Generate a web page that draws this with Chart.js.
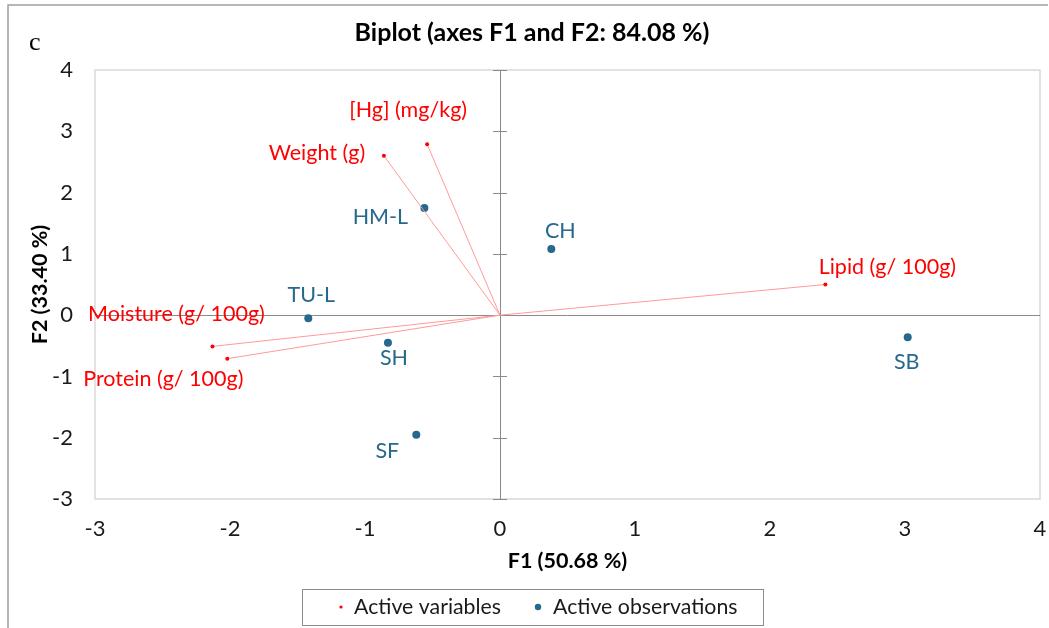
<!DOCTYPE html>
<html>
<head>
<meta charset="utf-8">
<script src="https://cdn.jsdelivr.net/npm/chart.js@4.4.1/dist/chart.umd.min.js"></script>
<style>
  html, body { margin: 0; padding: 0; background: #fff; }
  #wrap { width: 1049px; height: 628px; }
</style>
</head>
<body>
<div id="wrap"><canvas id="biplot" width="1049" height="628"></canvas></div>
<script>
// Active variables (loadings scaled onto F1/F2)
const varNames = ['[Hg] (mg/kg)', 'Weight (g)', 'Lipid (g/ 100g)', 'Moisture (g/ 100g)', 'Protein (g/ 100g)'];
const varF1 = [-0.54, -0.86, 2.41, -2.13, -2.02];
const varF2 = [2.79, 2.60, 0.50, -0.51, -0.71];

// Active observations
const obsNames = ['HM-L', 'CH', 'TU-L', 'SH', 'SF', 'SB'];
const obsF1 = [-0.56, 0.38, -1.42, -0.83, -0.62, 3.02];
const obsF2 = [1.75, 1.08, -0.05, -0.45, -1.95, -0.36];

// Axis ranges / ticks
const f1Ticks = [-3, -2, -1, 0, 1, 2, 3, 4];
const f2Ticks = [-3, -2, -1, 0, 1, 2, 3, 4];

const RED = '#ff0000';
const RED_LINE = '#ff9a9a';
const BLUE = '#26698c';
const FONT = 'Lato, "Open Sans", sans-serif';

// where each label sits relative to its point (px)
const varLabelOffset = [[-19, -34], [-67, -3], [62, -17], [-36, -32], [-64, 20]];
const obsLabelOffset = [[-44, 9], [9, -18], [3, -23], [6, 15], [-29, 16], [-1, 25]];

// one line dataset per variable, from the origin to the loading
const varDatasets = varNames.map((name, i) => ({
    label: name,
    data: [{ x: 0, y: 0 }, { x: varF1[i], y: varF2[i] }],
    showLine: true,
    borderColor: RED_LINE,
    borderWidth: 1,
    pointRadius: [0, 2],
    pointBackgroundColor: RED,
    pointBorderWidth: 0
}));

const obsDataset = {
    label: 'Active observations',
    data: obsF1.map((x, i) => ({ x: x, y: obsF2[i] })),
    pointRadius: 4,
    pointBackgroundColor: BLUE,
    pointBorderWidth: 0
};

const biplotDecor = {
    id: 'biplotDecor',
    beforeDraw(chart) {
        const ctx = chart.ctx;
        ctx.save();
        // outer frame (top + left only)
        ctx.strokeStyle = '#a0a0a0';
        ctx.lineWidth = 1.5;
        ctx.beginPath();
        ctx.moveTo(8, 628);
        ctx.lineTo(8, 5);
        ctx.lineTo(1048, 5);
        ctx.stroke();

        // panel letter
        ctx.fillStyle = '#000';
        ctx.font = '26px "Liberation Serif", "DejaVu Serif", serif';
        ctx.textAlign = 'left';
        ctx.textBaseline = 'middle';
        ctx.fillText('c', 29, 43);

        // title
        ctx.font = 'bold 25px ' + FONT;
        ctx.textAlign = 'center';
        ctx.fillText('Biplot (axes F1 and F2: 84.08 %)', 532, 33);

        // axis titles
        const a = chart.chartArea;
        ctx.font = 'bold 21.5px ' + FONT;
        ctx.fillText('F1 (50.68 %)', (a.left + a.right) / 2, 561);
        ctx.save();
        ctx.translate(40, (a.top + a.bottom) / 2);
        ctx.rotate(-Math.PI / 2);
        ctx.fillText('F2 (33.40 %)', 0, 0);
        ctx.restore();

        // plot frame
        ctx.strokeStyle = '#d9d9d9';
        ctx.lineWidth = 1.5;
        ctx.strokeRect(a.left, a.top, a.right - a.left, a.bottom - a.top);

        // legend
        ctx.strokeStyle = '#8c8c8c';
        ctx.lineWidth = 1;
        ctx.strokeRect(302.5, 589.5, 461, 36);
        ctx.fillStyle = RED;
        ctx.beginPath();
        ctx.arc(341, 607, 1.6, 0, Math.PI * 2);
        ctx.fill();
        ctx.fillStyle = BLUE;
        ctx.beginPath();
        ctx.arc(538, 607, 3.2, 0, Math.PI * 2);
        ctx.fill();
        ctx.fillStyle = '#1a1a1a';
        ctx.font = '21.3px ' + FONT;
        ctx.textAlign = 'left';
        ctx.fillText('Active variables', 354, 607);
        ctx.fillText('Active observations', 553, 607);
        ctx.restore();
    },
    beforeDatasetsDraw(chart) {
        // small tick marks across the vertical zero axis
        const ctx = chart.ctx;
        const x0 = chart.scales.x.getPixelForValue(0);
        ctx.save();
        ctx.strokeStyle = '#8a8a8a';
        ctx.lineWidth = 1;
        chart.scales.y.ticks.forEach(t => {
            const py = Math.round(chart.scales.y.getPixelForValue(t.value)) + 0.5;
            ctx.beginPath();
            ctx.moveTo(x0 - 7, py);
            ctx.lineTo(x0 + 7, py);
            ctx.stroke();
        });
        ctx.restore();
    },
    afterDatasetsDraw(chart) {
        const ctx = chart.ctx;
        ctx.save();
        ctx.font = '21.5px ' + FONT;
        ctx.textAlign = 'center';
        ctx.textBaseline = 'middle';
        ctx.fillStyle = RED;
        varNames.forEach((name, i) => {
            const pt = chart.getDatasetMeta(i).data[1];
            ctx.fillText(name, pt.x + varLabelOffset[i][0], pt.y + varLabelOffset[i][1]);
        });
        ctx.fillStyle = BLUE;
        const meta = chart.getDatasetMeta(varNames.length);
        obsNames.forEach((name, i) => {
            const pt = meta.data[i];
            ctx.fillText(name, pt.x + obsLabelOffset[i][0], pt.y + obsLabelOffset[i][1]);
        });
        ctx.restore();
    }
};

function zeroLine(ctx) {
    return ctx.tick && ctx.tick.value === 0 ? '#8a8a8a' : 'rgba(0,0,0,0)';
}

new Chart(document.getElementById('biplot'), {
    type: 'scatter',
    data: { datasets: [...varDatasets, obsDataset] },
    options: {
        responsive: false,
        animation: false,
        layout: { padding: { top: 70, left: 0, right: 9, bottom: 0 } },
        plugins: {
            legend: { display: false },
            tooltip: { enabled: false }
        },
        scales: {
            x: {
                type: 'linear',
                min: f1Ticks[0],
                max: f1Ticks[f1Ticks.length - 1],
                afterBuildTicks: s => { s.ticks = f1Ticks.map(v => ({ value: v })); },
                afterFit: s => { s.height = 129; s.paddingLeft = 0; s.paddingRight = 0; },
                border: { display: false },
                grid: { color: zeroLine, lineWidth: 1, drawTicks: false },
                ticks: { padding: 17, color: '#1a1a1a', font: { family: FONT, size: 22 } }
            },
            y: {
                type: 'linear',
                min: f2Ticks[0],
                max: f2Ticks[f2Ticks.length - 1],
                afterBuildTicks: s => { s.ticks = f2Ticks.map(v => ({ value: v })); },
                afterFit: s => { s.width = 95; s.paddingTop = 0; s.paddingBottom = 0; },
                border: { display: false },
                grid: { color: zeroLine, lineWidth: 1, drawTicks: false },
                ticks: { padding: 22, color: '#1a1a1a', font: { family: FONT, size: 22 } }
            }
        }
    },
    plugins: [biplotDecor]
});
</script>
</body>
</html>
